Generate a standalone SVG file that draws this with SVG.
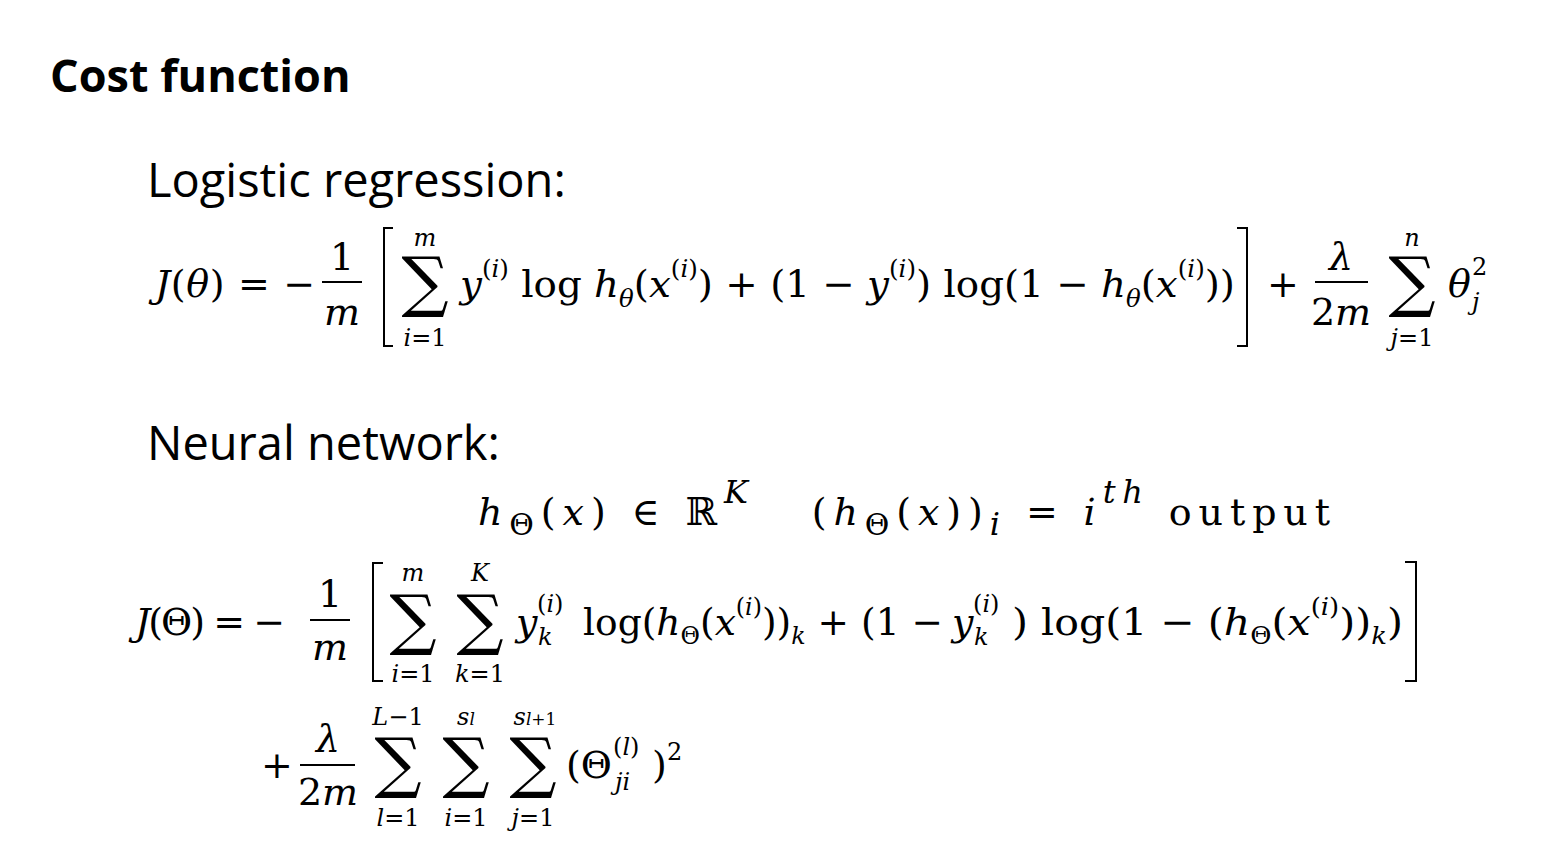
<svg xmlns="http://www.w3.org/2000/svg" width="1566" height="866" viewBox="0 0 1566 866">
<style>
.t{font-family:"Open Sans","Liberation Sans",sans-serif;fill:#000}
.m{font-family:"DejaVu Serif","Liberation Serif",serif;fill:#000;font-size:38px}
.i{font-style:italic}
.s{font-size:24px}
.sg{font-family:"DejaVu Serif",serif;font-size:66px;text-anchor:middle;font-style:normal}
.c{text-anchor:middle}
.ln{stroke:#000;stroke-width:2;fill:none}
</style>
<rect width="1566" height="866" fill="#fff"/>
<text class="t" x="50" y="92" font-size="45" font-weight="bold">Cost function</text>
<text class="t" x="147" y="197" font-size="47">Logistic regression:</text>
<text class="t" x="147" y="460" font-size="47">Neural network:</text>

<g id="formula1">
<text class="m" x="155" y="297" textLength="160" lengthAdjust="spacing"><tspan class="i">J</tspan>(<tspan class="i">θ</tspan>) = −</text>
<text class="m c" x="342" y="270">1</text><path class="ln" d="M322,282H362"/><text class="m c i" x="342" y="325">m</text>
<path class="ln" d="M393,228H384V346H393"/>
<text class="sg" x="425" y="304">∑</text>
<text class="m s c i" x="425" y="246">m</text><text class="m s c" x="425" y="346"><tspan class="i">i</tspan>=1</text>
<text class="m" x="460" y="297" textLength="775" lengthAdjust="spacingAndGlyphs"><tspan class="i">y</tspan><tspan class="s" dy="-20">(<tspan class="i">i</tspan>)</tspan><tspan dy="20"> log </tspan><tspan class="i">h</tspan><tspan class="s i" dy="10">θ</tspan><tspan dy="-10">(</tspan><tspan class="i">x</tspan><tspan class="s" dy="-20">(<tspan class="i">i</tspan>)</tspan><tspan dy="20">) + (1 − </tspan><tspan class="i">y</tspan><tspan class="s" dy="-20">(<tspan class="i">i</tspan>)</tspan><tspan dy="20">) log(1 − </tspan><tspan class="i">h</tspan><tspan class="s i" dy="10">θ</tspan><tspan dy="-10">(</tspan><tspan class="i">x</tspan><tspan class="s" dy="-20">(<tspan class="i">i</tspan>)</tspan><tspan dy="20">))</tspan></text>
<path class="ln" d="M1237,228H1247V346H1237"/>
<text class="m c" x="1283" y="297">+</text>
<text class="m c i" x="1341" y="270">λ</text><path class="ln" d="M1315,282H1368"/><text class="m c" x="1341" y="325">2<tspan class="i">m</tspan></text>
<text class="sg" x="1412" y="304">∑</text>
<text class="m s c i" x="1412" y="246">n</text><text class="m s c" x="1412" y="346"><tspan class="i">j</tspan>=1</text>
<text class="m i" x="1448" y="297">θ</text><text class="m s" x="1472" y="275">2</text><text class="m s i" x="1472" y="310">j</text>
</g>

<g id="formula2">
<text class="m" x="478" y="525" font-size="50" textLength="852" lengthAdjust="spacing"><tspan class="i">h</tspan><tspan font-size="30" dy="10">Θ</tspan><tspan dy="-10">(</tspan><tspan class="i">x</tspan>) ∈ ℝ<tspan class="i" dy="-22" font-size="32">K</tspan><tspan dy="22" xml:space="preserve">   (</tspan><tspan class="i">h</tspan><tspan font-size="30" dy="10">Θ</tspan><tspan dy="-10">(</tspan><tspan class="i">x</tspan>))<tspan class="i" dy="10" font-size="32">i</tspan><tspan dy="-10"> = </tspan><tspan class="i">i</tspan><tspan class="i" dy="-22" font-size="32">th</tspan><tspan dy="22"> output</tspan></text>
</g>

<g id="formula3">
<text class="m" x="135" y="635" textLength="150" lengthAdjust="spacing"><tspan class="i">J</tspan>(Θ) = −</text>
<text class="m c" x="330" y="607">1</text><path class="ln" d="M310,620H350"/><text class="m c i" x="330" y="660">m</text>
<path class="ln" d="M383,563H373V681H383"/>
<text class="sg" x="413" y="642">∑</text><text class="sg" x="480" y="642">∑</text>
<text class="m s c i" x="413" y="581">m</text><text class="m s c i" x="480" y="581">K</text>
<text class="m s c" x="413" y="682"><tspan class="i">i</tspan>=1</text><text class="m s c" x="480" y="682"><tspan class="i">k</tspan>=1</text>
<text class="m i" x="516" y="635">y</text><text class="m s" x="537" y="612">(<tspan class="i">i</tspan>)</text><text class="m s i" x="538" y="645">k</text>
<text class="m" x="583" y="635" textLength="360" lengthAdjust="spacingAndGlyphs">log(<tspan class="i">h</tspan><tspan class="s" dy="9">Θ</tspan><tspan dy="-9">(</tspan><tspan class="i">x</tspan><tspan class="s" dy="-20">(<tspan class="i">i</tspan>)</tspan><tspan dy="20">))</tspan><tspan class="s i" dy="9">k</tspan><tspan dy="-9"> + (1 −</tspan></text>
<text class="m i" x="952" y="635">y</text><text class="m s" x="973" y="612">(<tspan class="i">i</tspan>)</text><text class="m s i" x="974" y="645">k</text>
<text class="m" x="1012" y="635" textLength="391" lengthAdjust="spacingAndGlyphs">) log(1 − (<tspan class="i">h</tspan><tspan class="s" dy="9">Θ</tspan><tspan dy="-9">(</tspan><tspan class="i">x</tspan><tspan class="s" dy="-20">(<tspan class="i">i</tspan>)</tspan><tspan dy="20">))</tspan><tspan class="s i" dy="9">k</tspan><tspan dy="-9">)</tspan></text>
<path class="ln" d="M1405,562H1416V681H1405"/>
</g>

<g id="formula4">
<text class="m c" x="277" y="778">+</text>
<text class="m c i" x="328" y="752">λ</text><path class="ln" d="M300,765H355"/><text class="m c" x="328" y="805">2<tspan class="i">m</tspan></text>
<text class="sg" x="398" y="785">∑</text><text class="sg" x="466" y="785">∑</text><text class="sg" x="533" y="785">∑</text>
<text class="m s c" x="398" y="725"><tspan class="i">L</tspan>−1</text>
<text class="m s c i" x="466" y="725">s<tspan font-size="17">l</tspan></text>
<text class="m s c i" x="535" y="725">s<tspan font-size="17">l<tspan font-style="normal">+1</tspan></tspan></text>
<text class="m s c" x="398" y="826"><tspan class="i">l</tspan>=1</text><text class="m s c" x="466" y="826"><tspan class="i">i</tspan>=1</text><text class="m s c" x="533" y="826"><tspan class="i">j</tspan>=1</text>
<text class="m" x="566" y="778">(Θ</text><text class="m s" x="613" y="755">(<tspan class="i">l</tspan>)</text><text class="m s i" x="615" y="790">ji</text>
<text class="m" x="652" y="778">)</text><text class="m s" x="667" y="760">2</text>
</g>
</svg>
